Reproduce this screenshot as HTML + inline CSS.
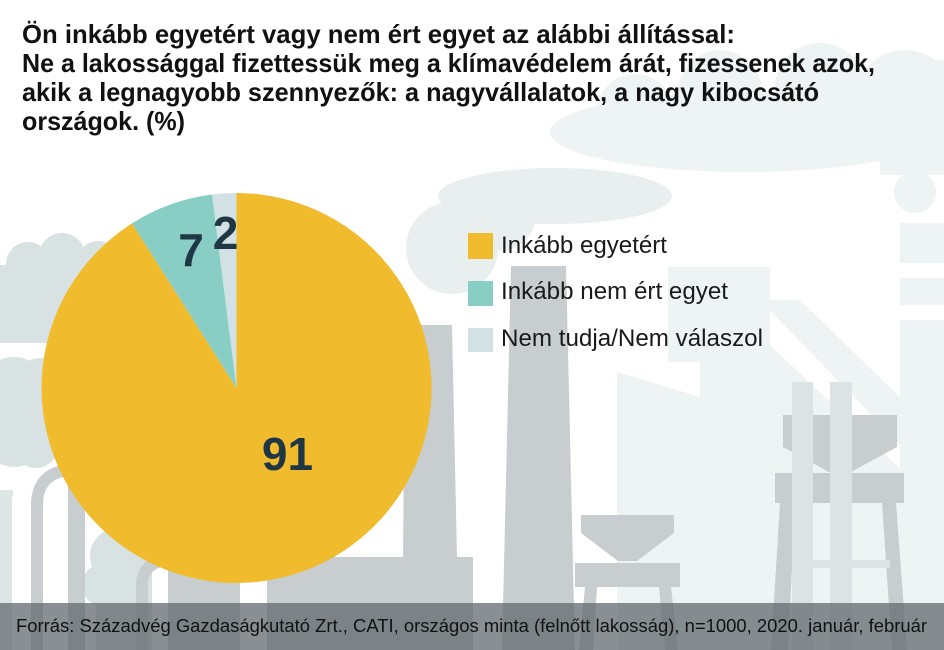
<!DOCTYPE html>
<html>
<head>
<meta charset="utf-8">
<style>
  html, body { margin: 0; padding: 0; background: #ffffff; }
  body { width: 944px; height: 650px; overflow: hidden; }
  svg { display: block; }
  text { font-family: "Liberation Sans", "DejaVu Sans", sans-serif; }
</style>
</head>
<body>
<svg width="944" height="650" viewBox="0 0 944 650" xmlns="http://www.w3.org/2000/svg">
  <rect x="0" y="0" width="944" height="650" fill="#ffffff"/>

  <!-- Top-right light cloud -->
  <g fill="#eef3f3">
    <ellipse cx="745" cy="132" rx="195" ry="40"/>
    <circle cx="635" cy="112" r="38"/>
    <circle cx="720" cy="92" r="42"/>
    <circle cx="820" cy="88" r="45"/>
    <circle cx="905" cy="100" r="50"/>
    <rect x="880" y="60" width="64" height="115"/>
    <circle cx="915" cy="192" r="21"/>
  </g>

  <!-- Cloud around legend -->
  <g fill="#e9efef">
    <ellipse cx="555" cy="196" rx="117" ry="28"/>
    <circle cx="500" cy="215" r="36"/>
    <circle cx="452" cy="248" r="46"/>
  </g>

  <!-- Right light structures -->
  <g fill="#eef3f3">
    <rect x="668" y="267" width="102" height="95"/>
    <polygon points="617,372 770,418 770,650 617,650"/>
    <rect x="700" y="362" width="70" height="288"/>
    <polygon points="760,300 800,300 944,440 944,490"/>
    <polygon points="770,345 944,510 944,650 770,650"/>
    <rect x="900" y="223" width="44" height="40"/>
    <rect x="900" y="278" width="44" height="27"/>
    <rect x="900" y="320" width="44" height="330"/>
  </g>

  <!-- Left clouds -->
  <g fill="#d9e2e3">
    <rect x="0" y="265" width="150" height="78"/>
    <circle cx="28" cy="264" r="22"/>
    <circle cx="62" cy="256" r="23"/>
    <circle cx="98" cy="262" r="21"/>
    <circle cx="132" cy="272" r="19"/>
    <ellipse cx="14" cy="412" rx="42" ry="55"/>
    <circle cx="40" cy="382" r="24"/>
    <circle cx="36" cy="446" r="22"/>
    <circle cx="118" cy="556" r="28"/>
    <circle cx="104" cy="585" r="22"/>
    <rect x="96" y="560" width="56" height="90"/>
  </g>

  <!-- Left light pillar -->
  <g fill="#dde5e6">
    <rect x="0" y="490" width="13" height="7"/>
    <rect x="0" y="497" width="12" height="153"/>
  </g>

  <!-- Gray structures -->
  <g fill="#c8cdd0">
    <rect x="68" y="485" width="17" height="165"/>
    <rect x="168" y="560" width="72" height="90"/>
    <polygon points="405,325 452,325 457,557 403,557"/>
    <rect x="267" y="557" width="206" height="93"/>
    <polygon points="511,266 566,266 575,650 502,650"/>
    <polygon points="581,515 674,515 674,533 637,561 618,561 581,533"/>
    <rect x="575" y="563" width="105" height="24"/>
    <polygon points="585,587 597,587 593,650 579,650"/>
    <polygon points="659,587 671,587 678,650 665,650"/>
    <polygon points="783,415 897,415 897,447 851,472 829,472 783,447"/>
    <rect x="775" y="473" width="129" height="30"/>
    <polygon points="780,503 795,503 788,650 771,650"/>
    <polygon points="882,503 896,503 907,650 892,650"/>
  </g>
  <g fill="none" stroke="#c8cdd0" stroke-width="12">
    <path d="M37 650 L37 505 Q37 474 68 470"/>
    <path d="M142 650 L142 585 Q142 564 165 560"/>
  </g>

  <!-- Tower posts -->
  <g fill="#dbe3e4">
    <rect x="792" y="382" width="21" height="268"/>
    <rect x="830" y="382" width="22" height="268"/>
    <rect x="795" y="560" width="95" height="8"/>
  </g>

  <!-- Pie -->
  <path d="M236.5 388 L236.5 193 A195 195 0 1 1 132.0 223.4 Z" fill="#f0bc2e"/>
  <path d="M236.5 388 L132.0 223.4 A195 195 0 0 1 212.1 194.5 Z" fill="#88cec5"/>
  <path d="M236.5 388 L212.1 194.5 A195 195 0 0 1 236.5 193 Z" fill="#d2e1e4"/>

  <g font-weight="bold" font-size="46" fill="#1f3744" text-anchor="middle">
    <text x="287.5" y="470">91</text>
    <text x="191" y="266">7</text>
    <text x="225.5" y="249">2</text>
  </g>

  <!-- Title -->
  <g font-weight="bold" font-size="26" fill="#111111">
    <text x="22" y="43" textLength="713" lengthAdjust="spacingAndGlyphs">Ön inkább egyetért vagy nem ért egyet az alábbi állítással:</text>
    <text x="22" y="72" textLength="853" lengthAdjust="spacingAndGlyphs">Ne a lakossággal fizettessük meg a klímavédelem árát, fizessenek azok,</text>
    <text x="22" y="101" textLength="797" lengthAdjust="spacingAndGlyphs">akik a legnagyobb szennyezők: a nagyvállalatok, a nagy kibocsátó</text>
    <text x="22" y="130" textLength="163" lengthAdjust="spacingAndGlyphs">országok. (%)</text>
  </g>

  <!-- Legend -->
  <rect x="468" y="233" width="25" height="26" fill="#f0bc2e"/>
  <rect x="468" y="281" width="25" height="25" fill="#88cec5"/>
  <rect x="468" y="328" width="25" height="24" fill="#d2e1e4"/>
  <g font-size="24" fill="#1a1a1a">
    <text x="501" y="253" textLength="166" lengthAdjust="spacingAndGlyphs">Inkább egyetért</text>
    <text x="501" y="299" textLength="227" lengthAdjust="spacingAndGlyphs">Inkább nem ért egyet</text>
    <text x="501" y="346" textLength="262" lengthAdjust="spacingAndGlyphs">Nem tudja/Nem válaszol</text>
  </g>

  <!-- Footer -->
  <rect x="0" y="603" width="944" height="47" fill="rgba(100,108,112,0.76)"/>
  <text x="16" y="632" font-size="18" fill="#111111" textLength="911" lengthAdjust="spacingAndGlyphs">Forrás: Századvég Gazdaságkutató Zrt., CATI, országos minta (felnőtt lakosság), n=1000, 2020. január, február</text>
</svg>
</body>
</html>
